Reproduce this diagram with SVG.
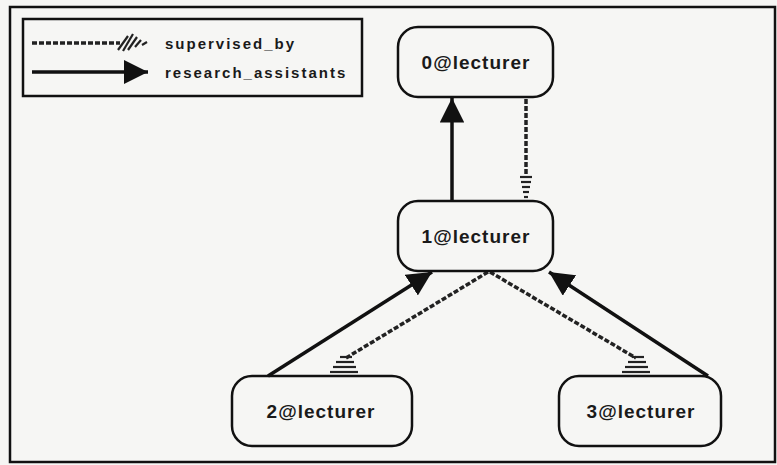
<svg xmlns="http://www.w3.org/2000/svg" width="777" height="465" viewBox="0 0 777 465">
<defs>
<style>
.node rect{fill:none;stroke:#111;stroke-width:2.5}
.node text{font-family:"Liberation Sans",Arial,sans-serif;font-weight:bold;font-size:19px;letter-spacing:1px;fill:#1a1a1a;text-anchor:middle;dominant-baseline:central}
.ra{stroke:#111;stroke-width:3.5;fill:none}
.sb{stroke:#222;stroke-width:3.5;fill:none;stroke-dasharray:5 2}
.hatch{stroke:#222;stroke-width:2.2}
.lg{font-family:"Liberation Sans",Arial,sans-serif;font-weight:bold;font-size:15px;letter-spacing:2px;fill:#1a1a1a;dominant-baseline:central}
</style>
<marker id="tri" viewBox="0 0 10 10" refX="10" refY="5" markerWidth="7" markerHeight="7" markerUnits="strokeWidth" orient="auto">
<path d="M0,0 L10,5 L0,10 z" fill="#111"/>
</marker>
</defs>
<rect x="0" y="0" width="777" height="465" fill="#f6f6f4"/>
<rect x="10" y="7" width="765" height="455" fill="none" stroke="#111" stroke-width="2.5"/>
<g id="legend">
<rect x="23" y="19" width="339" height="77" fill="none" stroke="#111" stroke-width="2.5"/>
<line x1="32" y1="43" x2="120" y2="43" class="sb"/>
<g class="hatch">
<line x1="118" y1="50" x2="128" y2="36"/>
<line x1="123" y1="51" x2="133" y2="34"/>
<line x1="128" y1="50" x2="137" y2="37"/>
<line x1="135" y1="47" x2="141" y2="40"/>
<line x1="142" y1="45" x2="147" y2="42"/>
</g>
<text x="165" y="43" class="lg">supervised_by</text>
<line x1="32" y1="72" x2="148" y2="72" class="ra" marker-end="url(#tri)"/>
<text x="165" y="72" class="lg">research_assistants</text>
</g>
<g id="connectors">
<line x1="452" y1="201" x2="452" y2="98" class="ra" marker-end="url(#tri)"/>
<line x1="526" y1="99" x2="526" y2="176" class="sb" stroke-dasharray="2 2"/>
<g class="hatch">
<line x1="520" y1="177" x2="532" y2="177"/>
<line x1="521" y1="182" x2="531" y2="182"/>
<line x1="522" y1="187" x2="530" y2="187"/>
<line x1="523" y1="192" x2="529" y2="192"/>
<line x1="524" y1="197" x2="528" y2="197"/>
</g>
<line x1="268" y1="376" x2="432" y2="272" class="ra" marker-end="url(#tri)"/>
<line x1="708" y1="376" x2="549" y2="272" class="ra" marker-end="url(#tri)"/>
<line x1="488" y1="272" x2="346" y2="358" class="sb"/>
<g class="hatch">
<line x1="340" y1="357" x2="352" y2="357"/>
<line x1="336" y1="362" x2="354" y2="362"/>
<line x1="333" y1="367" x2="356" y2="367"/>
<line x1="330" y1="372" x2="358" y2="372"/>
</g>
<line x1="490" y1="272" x2="636" y2="358" class="sb"/>
<g class="hatch">
<line x1="632" y1="357" x2="644" y2="357"/>
<line x1="628" y1="362" x2="646" y2="362"/>
<line x1="625" y1="367" x2="648" y2="367"/>
<line x1="622" y1="372" x2="650" y2="372"/>
</g>
</g>
<g id="n0" class="node"><rect x="398" y="27" width="155" height="70" rx="20"/><text x="476" y="62">0@lecturer</text></g>
<g id="n1" class="node"><rect x="398" y="201" width="155" height="70" rx="20"/><text x="476" y="236">1@lecturer</text></g>
<g id="n2" class="node"><rect x="232" y="376" width="180" height="70" rx="20"/><text x="321" y="411">2@lecturer</text></g>
<g id="n3" class="node"><rect x="559" y="376" width="162" height="70" rx="20"/><text x="641" y="411">3@lecturer</text></g>
</svg>
